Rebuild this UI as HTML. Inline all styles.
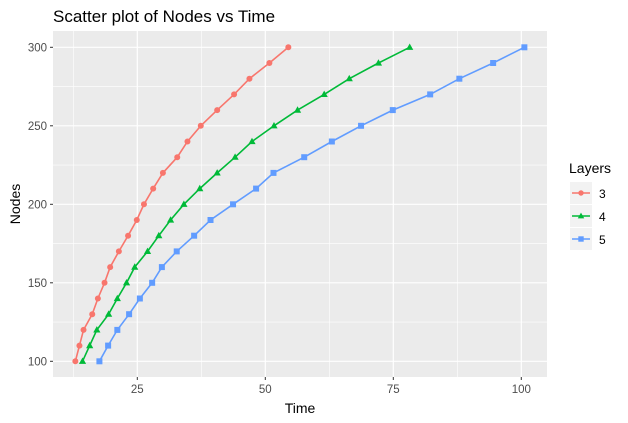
<!DOCTYPE html>
<html><head><meta charset="utf-8"><style>
body{margin:0;background:#fff;}
svg{display:block;font-family:"Liberation Sans",Arial,sans-serif;}
</style></head><body>
<svg id="chart" width="628" height="423" viewBox="0 0 628 423" xmlns="http://www.w3.org/2000/svg">
<rect width="628" height="423" fill="#fff"/>
<text x="53" y="22" font-size="17" fill="#000">Scatter plot of Nodes vs Time</text>
<rect x="53" y="31" width="494" height="346" fill="#ebebeb"/>
<g id="grid"></g>
<g id="series"></g>
<g id="axes"></g>
<text x="300" y="413" font-size="14" text-anchor="middle" fill="#000">Time</text>
<text transform="translate(20,204) rotate(-90)" font-size="14" text-anchor="middle" fill="#000">Nodes</text>
<text x="569" y="173" font-size="14" fill="#000">Layers</text>
<g id="legend"></g>
</svg>
<script>
const NS="http://www.w3.org/2000/svg";
const nodes=[100,110,120,130,140,150,160,170,180,190,200,210,220,230,240,250,260,270,280,290,300];
const time3=[12.9,13.7,14.5,16.2,17.3,18.6,19.7,21.4,23.2,24.9,26.3,28.1,30.0,32.8,34.8,37.4,40.6,43.9,46.9,50.8,54.5];
const time4=[14.3,15.7,17.1,19.4,21.1,22.9,24.5,27.0,29.2,31.5,34.1,37.2,40.6,44.1,47.4,51.7,56.3,61.5,66.4,72.1,78.2];
const time5=[17.6,19.3,21.1,23.4,25.5,27.9,29.8,32.7,36.1,39.3,43.7,48.2,51.6,57.6,63.0,68.7,74.9,82.2,87.9,94.5,100.6];
const layers=["3","4","5"];
const xTicks=[25,50,75,100];
const yTicks=[100,150,200,250,300];
const colors=["#f8766d","#00ba38","#619cff"];
const X=v=>9.3+v*5.12;
const Y=v=>361.3-(v-100)*1.57;
function mk(t,a,p){const e=document.createElementNS(NS,t);for(const k in a)e.setAttribute(k,a[k]);p.appendChild(e);return e;}
const grid=document.getElementById('grid');
xTicks.forEach(t=>{
  let l=mk('line',{x1:X(t-12.5),x2:X(t-12.5),y1:31,y2:377,stroke:'#fff','stroke-width':0.6},grid);
  
  
  let m=mk('line',{x1:X(t),x2:X(t),y1:31,y2:377,stroke:'#fff','stroke-width':1.2},grid);
  
  
});
yTicks.forEach((t,i)=>{
  if(i>0){let l=mk('line',{x1:53,x2:547,y1:Y(t-25),y2:Y(t-25),stroke:'#fff','stroke-width':0.6},grid);
  
  }
  let m=mk('line',{x1:53,x2:547,y1:Y(t),y2:Y(t),stroke:'#fff','stroke-width':1.2},grid);
  
  
});
const axes=document.getElementById('axes');
xTicks.forEach(t=>{
  let k=mk('line',{x1:X(t),x2:X(t),y1:377,y2:380,stroke:'#333','stroke-width':1},axes);
  
  
  let s=mk('text',{x:X(t),y:393,'font-size':11.5,'text-anchor':'middle',fill:'#4d4d4d'},axes);
  s.textContent=t;
  
  
});
yTicks.forEach(t=>{
  let k=mk('line',{x1:50,x2:53,y1:Y(t),y2:Y(t),stroke:'#333','stroke-width':1},axes);
  
  
  let s=mk('text',{x:47,y:Y(t)+4,'font-size':11.5,'text-anchor':'end',fill:'#4d4d4d'},axes);
  s.textContent=t;
  
  
});
function marker(type,cx,cy,c,p,s){
  s=s||1;
  if(type===0) return mk('circle',{cx:cx,cy:cy,r:3*s,fill:c},p);
  if(type===1) return mk('polygon',{points:`${cx},${cy-3.8*s} ${cx-3.6*s},${cy+2.6*s} ${cx+3.6*s},${cy+2.6*s}`,fill:c},p);
  return mk('rect',{x:cx-3*s,y:cy-3*s,width:6*s,height:6*s,fill:c},p);
}
const series=document.getElementById('series');
[time3,time4,time5].forEach((ts,si)=>{
  const g=mk('g',{},series);
  
  
  const pl=mk('polyline',{points:ts.map((t,i)=>X(t)+','+Y(nodes[i])).join(' '),fill:'none',stroke:colors[si],'stroke-width':1.6},g);
  
  
  ts.forEach((t,i)=>{
    const m=marker(si,X(t),Y(nodes[i]),colors[si],g);
    
    
  });
});
const legend=document.getElementById('legend');
layers.forEach((l,i)=>{
  const y=182+i*23;
  const g=mk('g',{},legend);
  
  
  mk('rect',{x:570,y:y,width:22,height:22,fill:'#f2f2f2'},g);
  mk('line',{x1:572,x2:590,y1:y+11,y2:y+11,stroke:colors[i],'stroke-width':1.6},g);
  marker(i,581,y+11,colors[i],g,0.9);
  const t=mk('text',{x:599,y:y+16,'font-size':12,fill:'#000'},g);
  t.textContent=l;
});
</script>
</body></html>
